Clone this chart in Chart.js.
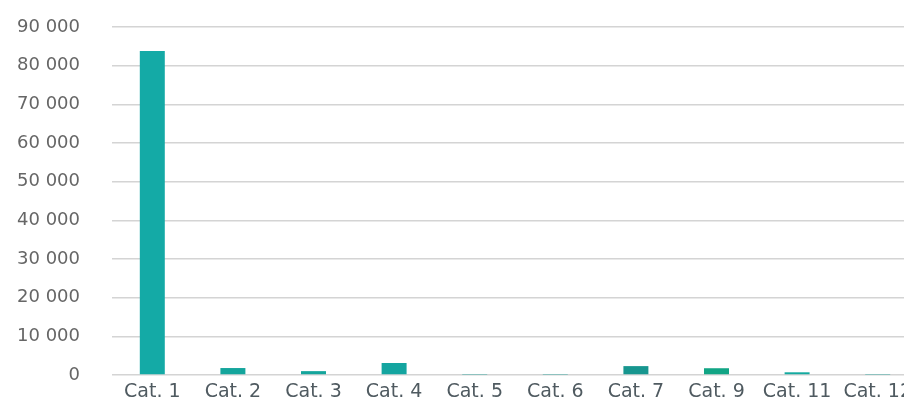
<!DOCTYPE html>
<html>
<head>
<meta charset="utf-8">
<script src="https://cdn.jsdelivr.net/npm/chart.js@4"></script>
<style>
  html, body { margin: 0; padding: 0; background: #fff; overflow: hidden; }
  #wrap { width: 930px; height: 401px; }
</style>
</head>
<body>
<div id="wrap"><canvas id="myBarChart"></canvas></div>
<script>
const categories = ["Cat. 1", "Cat. 2", "Cat. 3", "Cat. 4", "Cat. 5", "Cat. 6", "Cat. 7", "Cat. 9", "Cat. 11", "Cat. 12"];
const values = [83800, 1800, 1000, 3100, 100, 100, 2300, 1750, 700, 100];
const barColors = ["#14aaa6", "#14a59c", "#14a59c", "#14a5a0", "#14a59c", "#14a59c", "#17968f", "#12a585", "#14aaa0", "#14a59c"];
const yTicks = [0, 10000, 20000, 30000, 40000, 50000, 60000, 70000, 80000, 90000];

const fmt = (v) => String(v).replace(/\B(?=(\d{3})+(?!\d))/g, " ");

const data = {
  labels: categories,
  datasets: [
    {
      data: values,
      backgroundColor: barColors,
      borderWidth: 0,
      categoryPercentage: 1,
      barPercentage: 0.31,
    },
  ],
};

const config = {
  type: "bar",
  data: data,
  options: {
    responsive: true,
    maintainAspectRatio: false,
    animation: false,
    layout: { padding: { top: 27, right: 12, bottom: 0, left: 0 } },
    plugins: { legend: false, tooltip: { enabled: false } },
    scales: {
      x: {
        afterFit: (scale) => { scale.height = 26; },
        grid: { display: false, drawTicks: false },
        border: { display: false },
        ticks: {
          color: "#4f5a60",
          font: { family: "DejaVu Sans", size: 19 },
          padding: 6,
          maxRotation: 0,
          autoSkip: false,
        },
      },
      y: {
        min: 0,
        max: 90000,
        afterFit: (scale) => {
          scale.width = 112;
          // tick padding only meant to push labels left, not down
          scale.paddingTop = 0;
          scale.paddingBottom = 0;
        },
        afterBuildTicks: (scale) => { scale.ticks = yTicks.map((v) => ({ value: v })); },
        grid: { color: "#d4d4d4", lineWidth: 1.5, drawTicks: false },
        border: { display: false },
        ticks: {
          color: "#666666",
          font: { family: "DejaVu Sans", size: 18 },
          padding: 32,
          callback: (v) => fmt(v),
        },
      },
    },
  },
};

let myBarChart;
const ctx = document.getElementById("myBarChart").getContext("2d");
if (myBarChart) myBarChart.destroy();
myBarChart = new Chart(ctx, config);
</script>
</body>
</html>
